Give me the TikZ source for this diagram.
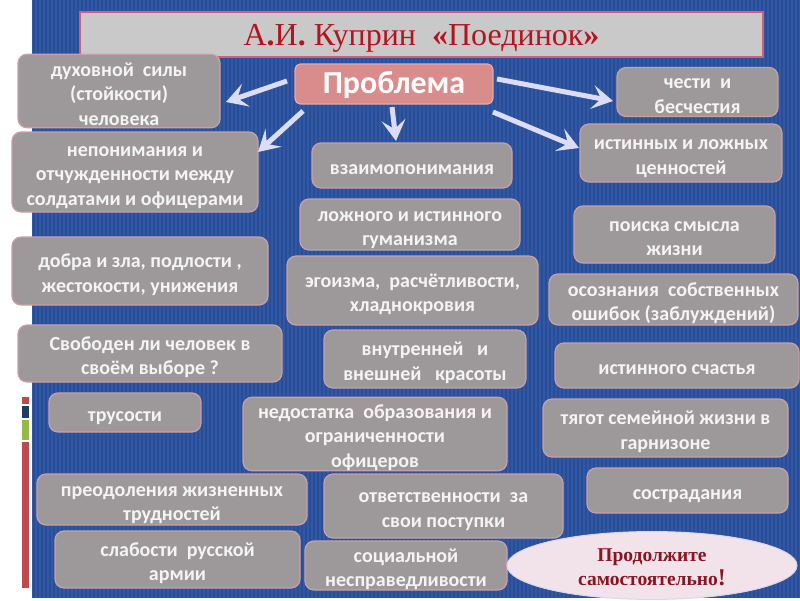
\documentclass[tikz,border=0pt]{standalone}
\usepackage{fontspec}
\setmainfont{Carlito}
\newfontfamily\serifru{Liberation Serif}
\usetikzlibrary{arrows.meta,shapes.geometric}
\definecolor{bluebg}{HTML}{3058A5}
\definecolor{bluestripe}{HTML}{2A4E96}
\definecolor{boxgray}{HTML}{9D9899}
\definecolor{boxborder}{HTML}{C9A0A8}
\definecolor{boxtext}{HTML}{F4F4F4}
\definecolor{probfill}{HTML}{D98C8C}
\definecolor{probborder}{HTML}{E8AAAA}
\definecolor{titlefill}{HTML}{C9C9C9}
\definecolor{titleborder}{HTML}{D0607A}
\definecolor{titletext}{HTML}{B4141E}
\definecolor{arrowc}{HTML}{DCDCF4}
\definecolor{ellfill}{HTML}{F2E2EA}
\definecolor{ellborder}{HTML}{DDD5EE}
\definecolor{elltext}{HTML}{8C1420}
\definecolor{barred}{HTML}{BE4B4B}
\definecolor{barblue}{HTML}{1E3C64}
\definecolor{bargreen}{HTML}{96B946}
\newcommand\bt[2][-4pt]{\raisebox{#1}[\height][\depth]{\begin{tabular}{@{}c@{}}#2\end{tabular}}}
\begin{document}
\begin{tikzpicture}[x=1pt,y=-1pt,
  box/.style={draw=boxborder, line width=1.2pt, fill=boxgray, rounded corners=9pt,
    text=boxtext, font=\bfseries\fontsize{20}{24.5}\selectfont, inner sep=0pt},
  probbox/.style={draw=probborder, line width=1.2pt, fill=probfill, rounded corners=6pt,
    text=white, font=\bfseries\fontsize{32}{34}\selectfont, inner sep=0pt},
  titlebox/.style={draw=titleborder, line width=2.5pt, fill=titlefill,
    text=titletext, font=\serifru\fontsize{32}{34}\selectfont, inner sep=0pt},
  ellbox/.style={ellipse, draw=ellborder, line width=1pt, fill=ellfill, text=elltext,
    font=\serifru\bfseries\fontsize{19.5}{24}\selectfont, inner sep=0pt},
  arr/.style={draw=arrowc, line width=5pt, -{Stealth[length=21pt,width=24pt,inset=9pt]}}
]
\useasboundingbox (0,0) rectangle (800,600);
\fill[white] (0,0) rectangle (800,600);
\fill[bluebg] (32,0) rectangle (800,598);
\foreach \i in {34,38,...,798} \draw[bluestripe, line width=1.2pt] (\i,0) -- (\i,598);
% side bars
\fill[barred] (22,397) rectangle (29,404);
\fill[barblue] (22,406) rectangle (29,418);
\fill[bargreen] (22,420) rectangle (29,440);
\fill[barred] (22,442) rectangle (29,588);
% title
\node[titlebox, minimum width=683pt, minimum height=45pt] (title) at (421.5,34.5)
  {\bt{А{\bfseries.}И{\bfseries.} Куприн\ \ {\bfseries«}Поединок{\bfseries»}}};
\node[probbox, minimum width=198pt, minimum height=40pt] (prob) at (394,84) {\bt[-3pt]{Проблема}};
% boxes
\node[box, minimum width=202pt, minimum height=68pt] (duh) at (119,91) {\bt[-5pt]{духовной\ \ силы\\(стойкости)\\человека}};
\node[box, minimum width=161pt, minimum height=44pt] (chest) at (697.5,92) {\bt{чести\ \ и\\бесчестия}};
\node[box, minimum width=246pt, minimum height=80pt] (nepon) at (135,172) {\bt{непонимания и\\отчужденности между\\солдатами и офицерами}};
\node[box, minimum width=200pt, minimum height=45pt] (vzaim) at (412,165.5) {\bt{взаимопонимания}};
\node[box, minimum width=202pt, minimum height=58pt] (istin) at (681,153) {\bt{истинных и ложных\\ценностей}};
\node[box, minimum width=220pt, minimum height=51pt] (lozh) at (410,224.5) {\bt{ложного и истинного\\гуманизма}};
\node[box, minimum width=201pt, minimum height=57pt] (poisk) at (674.5,234.5) {\bt{поиска смысла\\жизни}};
\node[box, minimum width=256pt, minimum height=68pt] (dobra) at (140,271) {\bt{добра и зла, подлости ,\\жестокости, унижения}};
\node[box, minimum width=251pt, minimum height=69pt] (egoizm) at (412.5,290.5) {\bt{эгоизма,\ \ расчётливости,\\хладнокровия}};
\node[box, minimum width=249pt, minimum height=51pt] (osozn) at (673.5,299.5) {\bt{осознания\ \ собственных\\ошибок (заблуждений)}};
\node[box, minimum width=264pt, minimum height=57pt] (svob) at (150,353.5) {\bt{Свободен ли человек в\\своём выборе ?}};
\node[box, minimum width=202pt, minimum height=58pt] (vnutr) at (425,359) {\bt{внутренней\ \ \ и\\внешней\ \ \ красоты}};
\node[box, minimum width=244pt, minimum height=45pt] (schast) at (677,365.5) {\bt{истинного счастья}};
\node[box, minimum width=152pt, minimum height=39pt] (trus) at (125,412.5) {\bt{трусости}};
\node[box, minimum width=264pt, minimum height=70pt] (nedost) at (375,434) {\bt{недостатка\ \ образования и\\ограниченности\\офицеров}};
\node[box, minimum width=245pt, minimum height=58pt] (tyagot) at (665.5,428) {\bt{тягот семейной жизни в\\гарнизоне}};
\node[box, minimum width=270pt, minimum height=51pt] (preod) at (172,499.5) {\bt{преодоления жизненных\\трудностей}};
\node[box, minimum width=239pt, minimum height=64pt] (otvet) at (443.5,506) {\bt{ответственности\ \ за\\свои поступки}};
\node[box, minimum width=201pt, minimum height=45pt] (sostr) at (687.5,490.5) {\bt{сострадания}};
\node[box, minimum width=245pt, minimum height=57pt] (slab) at (177.5,559.5) {\bt{слабости\ \ русской\\армии}};
\node[box, minimum width=202pt, minimum height=45pt] (soc) at (406,565.5) {\bt{социальной\\несправедливости}};
\node[ellbox, minimum width=290pt, minimum height=65pt] (cont) at (652,565.5) {\bt[-3pt]{Продолжите\\самостоятельно{\fontsize{24}{24}\selectfont!}}};
% arrows
\coordinate (a1s) at (287,81);
\coordinate (a1e) at (226,102);
\coordinate (a2s) at (303,111);
\coordinate (a2e) at (258,152);
\coordinate (a3s) at (392,107);
\coordinate (a3e) at (396,141);
\coordinate (a4s) at (493,112);
\coordinate (a4e) at (579,148);
\coordinate (a5s) at (497,79);
\coordinate (a5e) at (613,101);
\draw[arr] (a1s) -- (a1e);
\draw[arr] (a2s) -- (a2e);
\draw[arr] (a3s) -- (a3e);
\draw[arr] (a4s) -- (a4e);
\draw[arr] (a5s) -- (a5e);
\end{tikzpicture}
\end{document}
